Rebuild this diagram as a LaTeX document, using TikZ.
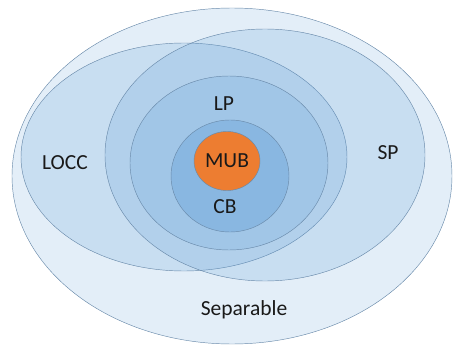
\documentclass[tikz,border=0pt]{standalone}
\usepackage{fontspec}
\setmainfont{Carlito}
\usetikzlibrary{shapes.geometric, positioning}

\definecolor{setblue}{RGB}{91,155,213}
\definecolor{setline}{RGB}{105,138,170}
\definecolor{muborange}{RGB}{237,125,49}

\tikzset{
  setfill/.style={fill=setblue, fill opacity=#1, draw=setline, line width=0.45pt},
  setfill/.default=0.2,
  lbl/.style={font=\fontsize{21.5}{25}\selectfont, text=black!90}
}

\begin{document}
\begin{tikzpicture}[x=1pt, y=-1pt]
\useasboundingbox (0,0) rectangle (453,345);
\path[setfill=0.17] (232,176) ellipse (220 and 168);
\path[setfill] (184,157) ellipse (163 and 114);
\path[setfill] (265,155) ellipse (160 and 126);
\path[setfill] (229,163) ellipse (99 and 87);
\path[setfill=0.35] (230,176) ellipse (59 and 56);
\node[ellipse, fill=muborange, draw=setline, line width=0.45pt,
    minimum width=66pt, minimum height=59pt, inner sep=0pt, lbl] (mub) at (227,161) {MUB};
\node[lbl] (lp) at (224,104) {LP};
\node[lbl] (cb) at (225,207) {CB};
\node[lbl] (locc) at (65,163) {LOCC};
\node[lbl] (sp) at (388,153) {SP};
\node[lbl] (sep) at (244,310) {Separable};
\end{tikzpicture}
\end{document}
